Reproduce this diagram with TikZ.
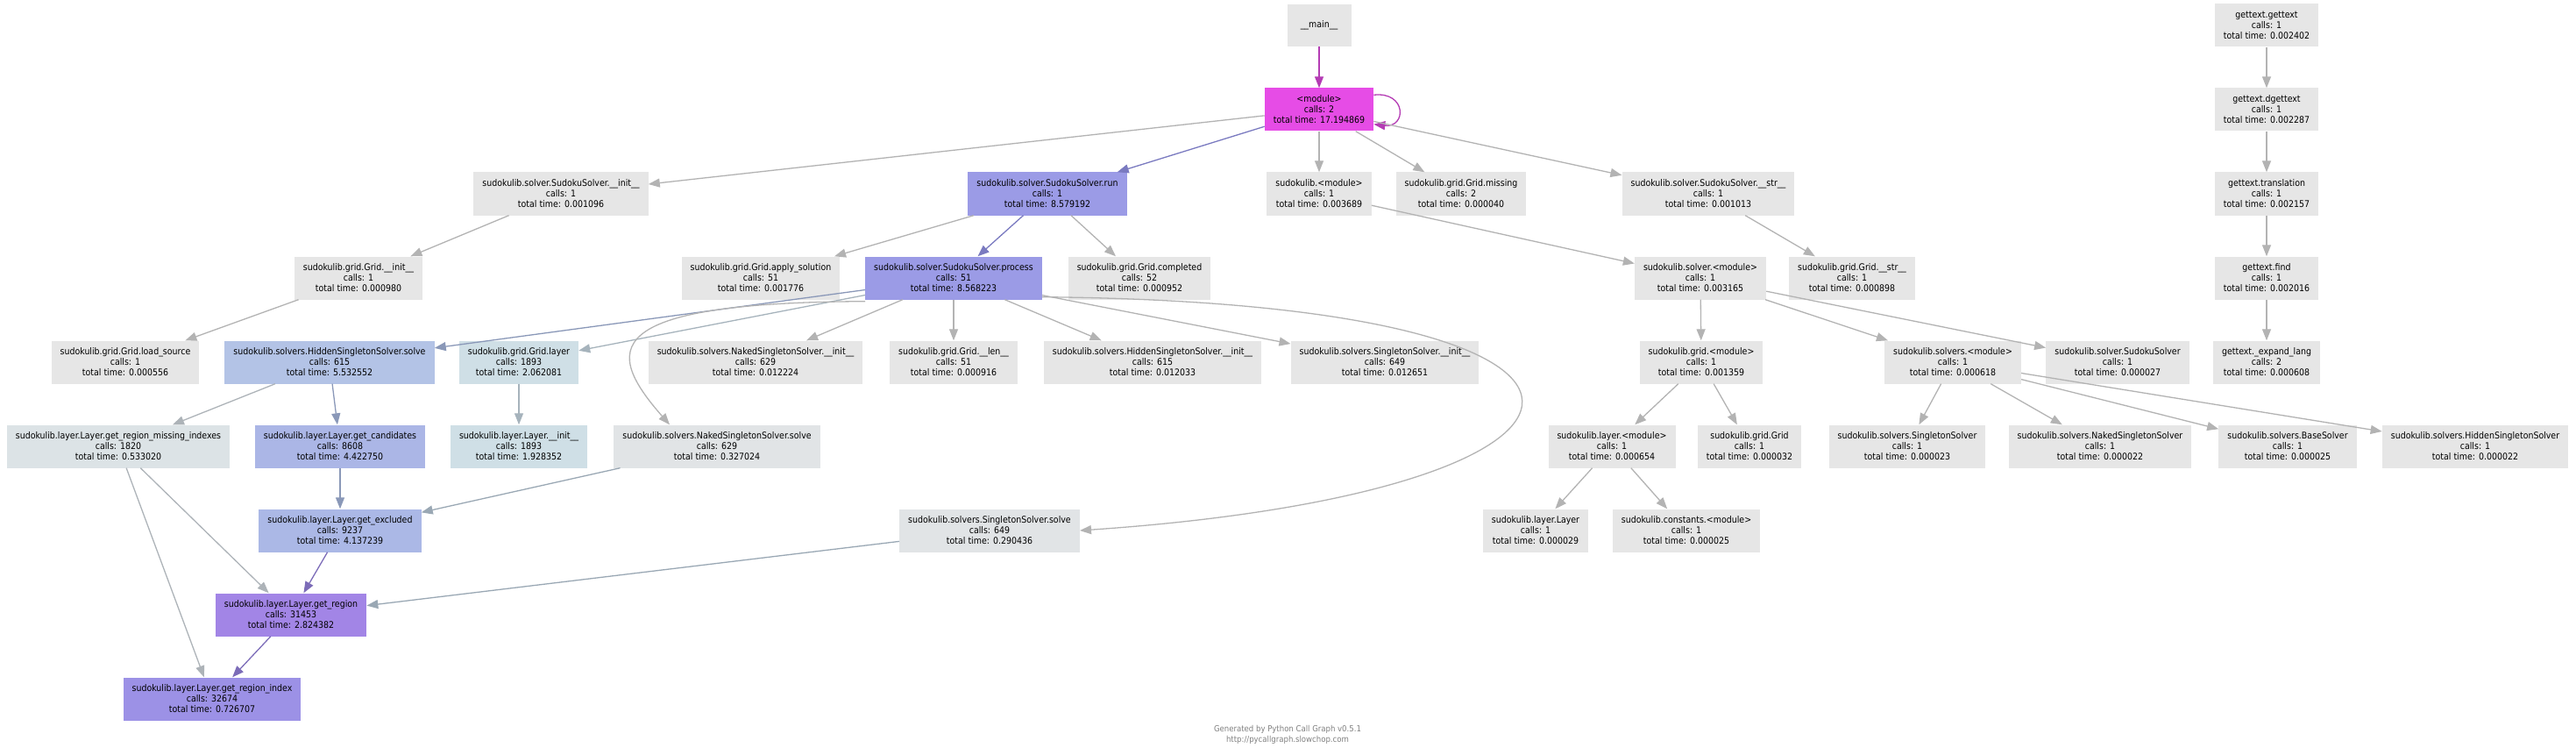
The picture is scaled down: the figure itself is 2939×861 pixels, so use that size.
\documentclass[tikz,border=0pt]{standalone}
\usepackage{fontspec}
\newfontfamily\cgfont{DejaVu Sans Condensed}
\usetikzlibrary{arrows.meta}

\definecolor{cggray}{HTML}{E6E6E6}
\definecolor{cgmod}{HTML}{E64CE6}
\definecolor{cgrun}{HTML}{9B9BE6}
\definecolor{cghss}{HTML}{B3C3E6}
\definecolor{cglayer}{HTML}{CFDFE6}
\definecolor{cgrmi}{HTML}{DCE3E6}
\definecolor{cgsolve}{HTML}{E1E4E6}
\definecolor{cgcand}{HTML}{ABB6E6}
\definecolor{cgexcl}{HTML}{ABB8E6}
\definecolor{cgregion}{HTML}{A285E6}
\definecolor{cgindex}{HTML}{9C91E6}
% edge colours
\definecolor{cgedge}{HTML}{B3B3B3}
\definecolor{cgmodedge}{HTML}{B43CB4}
\definecolor{cgrunedge}{HTML}{7A7AC0}
\definecolor{cgblueedge}{HTML}{8A98B8}
\definecolor{cglayeredge}{HTML}{A6B3BC}
\definecolor{cgrmiedge}{HTML}{ADB3B8}
\definecolor{cgsolveedge}{HTML}{9AA8B4}
\definecolor{cgregionedge}{HTML}{7C6CB8}

\tikzset{>={Triangle[length=13pt,width=10pt]}}
\tikzset{
  fn/.style={fill=#1, align=center, inner xsep=10pt, inner ysep=0pt,
    minimum height=49pt, font=\cgfont\fontsize{10.5}{12}\selectfont},
  fn/.default=cggray,
  call/.style={->, draw=#1, line width=1.3pt},
  call/.default=cgedge,
}
\newcommand{\cg}[3]{#1\\calls: #2\\total time: #3}

\begin{document}
\begin{tikzpicture}[x=1pt,y=-1pt]
  \useasboundingbox (0,0) rectangle (2939,861);

  % row 0 and 1
  \node[fn, minimum width=73pt, minimum height=48pt] (main) at (1505,29) {\_\_main\_\_};
  \node[fn=cgmod] (mod) at (1505,125) {\cg{<module>}{2}{17.194869}};
  \node[fn] (gt) at (2586,29) {\cg{gettext.gettext}{1}{0.002402}};
  \node[fn] (dgt) at (2586,125) {\cg{gettext.dgettext}{1}{0.002287}};

  % row 2
  \node[fn] (sinit) at (640,221) {\cg{sudokulib.solver.SudokuSolver.\_\_init\_\_}{1}{0.001096}};
  \node[fn=cgrun] (run) at (1195,221) {\cg{sudokulib.solver.SudokuSolver.run}{1}{8.579192}};
  \node[fn] (smod) at (1505,221) {\cg{sudokulib.<module>}{1}{0.003689}};
  \node[fn] (miss) at (1667,221) {\cg{sudokulib.grid.Grid.missing}{2}{0.000040}};
  \node[fn] (sstr) at (1949,221) {\cg{sudokulib.solver.SudokuSolver.\_\_str\_\_}{1}{0.001013}};
  \node[fn] (trans) at (2586,221) {\cg{gettext.translation}{1}{0.002157}};

  % row 3
  \node[fn] (ginit) at (409,317) {\cg{sudokulib.grid.Grid.\_\_init\_\_}{1}{0.000980}};
  \node[fn] (apply) at (868,317) {\cg{sudokulib.grid.Grid.apply\_solution}{51}{0.001776}};
  \node[fn=cgrun] (proc) at (1088,317) {\cg{sudokulib.solver.SudokuSolver.process}{51}{8.568223}};
  \node[fn] (compl) at (1300,317) {\cg{sudokulib.grid.Grid.completed}{52}{0.000952}};
  \node[fn] (solmod) at (1940,317) {\cg{sudokulib.solver.<module>}{1}{0.003165}};
  \node[fn] (gstr) at (2113,317) {\cg{sudokulib.grid.Grid.\_\_str\_\_}{1}{0.000898}};
  \node[fn] (find) at (2586,317) {\cg{gettext.find}{1}{0.002016}};

  % row 4
  \node[fn] (load) at (143,413) {\cg{sudokulib.grid.Grid.load\_source}{1}{0.000556}};
  \node[fn=cghss] (hss) at (376,413) {\cg{sudokulib.solvers.HiddenSingletonSolver.solve}{615}{5.532552}};
  \node[fn=cglayer] (glayer) at (592,413) {\cg{sudokulib.grid.Grid.layer}{1893}{2.062081}};
  \node[fn] (nsinit) at (862,413) {\cg{sudokulib.solvers.NakedSingletonSolver.\_\_init\_\_}{629}{0.012224}};
  \node[fn] (glen) at (1088,413) {\cg{sudokulib.grid.Grid.\_\_len\_\_}{51}{0.000916}};
  \node[fn] (hsinit) at (1315,413) {\cg{sudokulib.solvers.HiddenSingletonSolver.\_\_init\_\_}{615}{0.012033}};
  \node[fn] (ssinit) at (1580,413) {\cg{sudokulib.solvers.SingletonSolver.\_\_init\_\_}{649}{0.012651}};
  \node[fn] (gmod) at (1941,413) {\cg{sudokulib.grid.<module>}{1}{0.001359}};
  \node[fn] (svmod) at (2228,413) {\cg{sudokulib.solvers.<module>}{1}{0.000618}};
  \node[fn] (ssolver) at (2416,413) {\cg{sudokulib.solver.SudokuSolver}{1}{0.000027}};
  \node[fn] (expand) at (2586,413) {\cg{gettext.\_expand\_lang}{2}{0.000608}};

  % row 5
  \node[fn=cgrmi] (rmi) at (135,509) {\cg{sudokulib.layer.Layer.get\_region\_missing\_indexes}{1820}{0.533020}};
  \node[fn=cgcand] (cand) at (388,509) {\cg{sudokulib.layer.Layer.get\_candidates}{8608}{4.422750}};
  \node[fn=cglayer] (linit) at (592,509) {\cg{sudokulib.layer.Layer.\_\_init\_\_}{1893}{1.928352}};
  \node[fn=cgsolve] (nss) at (818,509) {\cg{sudokulib.solvers.NakedSingletonSolver.solve}{629}{0.327024}};
  \node[fn] (lmod) at (1839,509) {\cg{sudokulib.layer.<module>}{1}{0.000654}};
  \node[fn] (grid) at (1996,509) {\cg{sudokulib.grid.Grid}{1}{0.000032}};
  \node[fn] (sing) at (2176,509) {\cg{sudokulib.solvers.SingletonSolver}{1}{0.000023}};
  \node[fn] (naked) at (2396,509) {\cg{sudokulib.solvers.NakedSingletonSolver}{1}{0.000022}};
  \node[fn] (base) at (2610,509) {\cg{sudokulib.solvers.BaseSolver}{1}{0.000025}};
  \node[fn] (hidden) at (2824,509) {\cg{sudokulib.solvers.HiddenSingletonSolver}{1}{0.000022}};

  % rows 6 to 8
  \node[fn=cgexcl] (excl) at (388,605) {\cg{sudokulib.layer.Layer.get\_excluded}{9237}{4.137239}};
  \node[fn=cgsolve] (sss) at (1129,605) {\cg{sudokulib.solvers.SingletonSolver.solve}{649}{0.290436}};
  \node[fn] (layer) at (1752,605) {\cg{sudokulib.layer.Layer}{1}{0.000029}};
  \node[fn] (const) at (1924,605) {\cg{sudokulib.constants.<module>}{1}{0.000025}};
  \node[fn=cgregion] (region) at (332,701) {\cg{sudokulib.layer.Layer.get\_region}{31453}{2.824382}};
  \node[fn=cgindex] (rindex) at (242,797) {\cg{sudokulib.layer.Layer.get\_region\_index}{32674}{0.726707}};

  \node[align=center, text=black!50, inner sep=0pt, font=\cgfont\fontsize{9.5}{12}\selectfont]
    (footer) at (1469,838) {Generated by Python Call Graph v0.5.1\\http://pycallgraph.slowchop.com};

  % calls
  \draw[call=cgmodedge] (main) -- (mod);
  \draw[call=cgmodedge] ([yshift=-8pt]mod.north east) .. controls (1605,104) and (1605,146) .. ([yshift=8pt]mod.south east);
  \draw[call] (mod) -- (sinit);
  \draw[call=cgrunedge] (mod) -- (run);
  \draw[call] (mod) -- (smod);
  \draw[call] (mod) -- (miss);
  \draw[call] (mod) -- (sstr);
  \draw[call] (sinit) -- (ginit);
  \draw[call] (ginit) -- (load);
  \draw[call] (run) -- (apply);
  \draw[call=cgrunedge] (run) -- (proc);
  \draw[call] (run) -- (compl);
  \draw[call] (smod) -- (solmod);
  \draw[call] (sstr) -- (gstr);

  \draw[call=cgblueedge] (proc) -- (hss);
  \draw[call=cglayeredge] (proc) -- (glayer);
  \draw[call] (proc) -- (nsinit);
  \draw[call] (proc) -- (glen);
  \draw[call] (proc) -- (hsinit);
  \draw[call] (proc) -- (ssinit);
  \draw[call] ([yshift=-2pt]proc.south west) .. controls (680,345) and (690,400) .. ([xshift=-54pt]nss.north);
  \draw[call] ([yshift=3pt]proc.south east) .. controls (1930,345) and (1890,560) .. (sss.east);

  \draw[call=cgrmiedge] (hss) -- (rmi);
  \draw[call=cgblueedge] (hss) -- (cand);
  \draw[call=cglayeredge] (glayer) -- (linit);
  \draw[call=cgblueedge] (cand) -- (excl);
  \draw[call=cgsolveedge] (nss) -- (excl);
  \draw[call=cgrmiedge] (rmi) -- (region);
  \draw[call=cgrmiedge] (rmi) -- (rindex);
  \draw[call=cgregionedge] (excl) -- (region);
  \draw[call=cgsolveedge] (sss) -- (region);
  \draw[call=cgregionedge] (region) -- (rindex);

  \draw[call] (solmod) -- (gmod);
  \draw[call] (solmod) -- (svmod);
  \draw[call] (solmod) -- (ssolver);
  \draw[call] (gmod) -- (lmod);
  \draw[call] (gmod) -- (grid);
  \draw[call] (lmod) -- (layer);
  \draw[call] (lmod) -- (const);
  \draw[call] (svmod) -- (sing);
  \draw[call] (svmod) -- (naked);
  \draw[call] (svmod) -- (base);
  \draw[call] (svmod) -- (hidden);

  \draw[call] (gt) -- (dgt);
  \draw[call] (dgt) -- (trans);
  \draw[call] (trans) -- (find);
  \draw[call] (find) -- (expand);
\end{tikzpicture}
\end{document}
